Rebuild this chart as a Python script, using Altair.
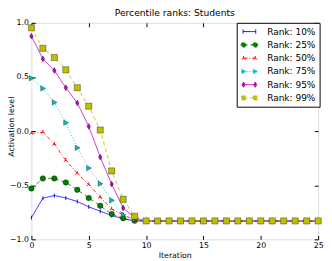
import altair as alt
import pandas as pd

iterations = [0, 1, 2, 3, 4, 5, 6, 7, 8, 9, 10, 11, 12, 13, 14, 15, 16, 17, 18, 19, 20, 21, 22, 23, 24, 25]
ranks = ["Rank: 10%", "Rank: 25%", "Rank: 50%", "Rank: 75%", "Rank: 95%", "Rank: 99%"]

rank10 = [-0.80, -0.62, -0.595, -0.618, -0.65, -0.70, -0.74, -0.78, -0.81, -0.83, -0.83,
          -0.83, -0.83, -0.83, -0.83, -0.83, -0.83, -0.83, -0.83, -0.83, -0.83, -0.83, -0.83, -0.83, -0.83, -0.83]
rank25 = [-0.53, -0.437, -0.437, -0.474, -0.543, -0.618, -0.69, -0.767, -0.805, -0.828, -0.83,
          -0.83, -0.83, -0.83, -0.83, -0.83, -0.83, -0.83, -0.83, -0.83, -0.83, -0.83, -0.83, -0.83, -0.83, -0.83]
rank50 = [-0.02, -0.01, -0.12, -0.27, -0.39, -0.494, -0.61, -0.72, -0.773, -0.82, -0.83,
          -0.83, -0.83, -0.83, -0.83, -0.83, -0.83, -0.83, -0.83, -0.83, -0.83, -0.83, -0.83, -0.83, -0.83, -0.83]
rank75 = [0.488, 0.394, 0.265, 0.078, -0.155, -0.342, -0.486, -0.64, -0.773, -0.816, -0.83,
          -0.83, -0.83, -0.83, -0.83, -0.83, -0.83, -0.83, -0.83, -0.83, -0.83, -0.83, -0.83, -0.83, -0.83, -0.83]
rank95 = [0.877, 0.667, 0.56, 0.40, 0.26, 0.043, -0.24, -0.49, -0.71, -0.80, -0.83,
          -0.83, -0.83, -0.83, -0.83, -0.83, -0.83, -0.83, -0.83, -0.83, -0.83, -0.83, -0.83, -0.83, -0.83, -0.83]
rank99 = [0.954, 0.765, 0.68, 0.566, 0.40, 0.23, 0.01, -0.368, -0.63, -0.787, -0.83,
          -0.83, -0.83, -0.83, -0.83, -0.83, -0.83, -0.83, -0.83, -0.83, -0.83, -0.83, -0.83, -0.83, -0.83, -0.83]

series = [rank10, rank25, rank50, rank75, rank95, rank99]
colors = ["#0000ff", "#008000", "#ff0000", "#00bfbf", "#bf00bf", "#bfbf00"]
dashes = [[1, 0], [4, 3], [4, 2, 1, 2], [1, 2], [1, 0], [4, 3]]
x_ticks = [0, 5, 10, 15, 20, 25]
y_ticks = [-1.0, -0.5, 0.0, 0.5, 1.0]

# marker shapes in the plot
marker_paths = [
    "M0,-1L0,1",
    "circle",
    "M0,0L0,-1M0,0L-0.87,0.5M0,0L0.87,0.5",
    "M-0.8,-1L1,0L-0.8,1Z",
    "M0,-1L0.6,0L0,1L-0.6,0Z",
    "M-1,-1H1V1H-1Z",
]
marker_sizes = [16, 32, 22, 30, 36, 40]
marker_filled = [False, True, False, True, True, True]

# legend symbols: a short line with a marker at each end
legend_paths = [
    "M-1.3,0L1.3,0M-1.3,-0.45L-1.3,0.45M1.3,-0.45L1.3,0.45",
    "M-1.2,0L1.2,0M-0.7,0A0.5,0.5 0 1 1 -1.7,0A0.5,0.5 0 1 1 -0.7,0ZM1.7,0A0.5,0.5 0 1 1 0.7,0A0.5,0.5 0 1 1 1.7,0Z",
    "M-1.2,0L1.2,0M-1.2,0L-1.2,-0.45M-1.2,0L-1.6,0.25M-1.2,0L-0.8,0.25M1.2,0L1.2,-0.45M1.2,0L0.8,0.25M1.2,0L1.6,0.25",
    "M-1.2,0L1.2,0M-1.6,-0.5L-0.7,0L-1.6,0.5ZM0.8,-0.5L1.7,0L0.8,0.5Z",
    "M-1.2,0L1.2,0M-1.2,-0.55L-0.9,0L-1.2,0.55L-1.5,0ZM1.2,-0.55L1.5,0L1.2,0.55L0.9,0Z",
    "M-1.2,0L1.2,0M-1.6,-0.4H-0.8V0.4H-1.6ZM0.8,-0.4H1.6V0.4H0.8Z",
]

rows = []
for name, vals in zip(ranks, series):
    for it, v in zip(iterations, vals):
        rows.append({"iteration": it, "value": v, "rank": name})
df = pd.DataFrame(rows)

FONT = "DejaVu Sans"

x_enc = alt.X(
    "iteration:Q",
    scale=alt.Scale(domain=[0, 25], nice=False, zero=False),
    axis=alt.Axis(values=x_ticks, format="d", title="Iteration", orient="bottom",
                  offset=-4, tickSize=4, domain=False, labelPadding=2, labelFlush=False,
                  labelFontSize=8, titleFontSize=8, titlePadding=3, titleFontWeight="normal",
                  grid=False, tickColor="black", labelColor="black", titleColor="black",
                  labelFont=FONT, titleFont=FONT),
)
y_enc = alt.Y(
    "value:Q",
    scale=alt.Scale(domain=[-1, 1], nice=False, zero=False),
    axis=alt.Axis(values=y_ticks, format=".1f", title="Activation level", orient="left",
                  offset=-4, tickSize=4, domain=False, labelPadding=3, labelFlush=False,
                  labelFontSize=8, titleFontSize=8, titleFontWeight="normal",
                  titleX=-20, titleY=106, titleAngle=270, titleBaseline="bottom",
                  grid=False, tickColor="black", labelColor="black", titleColor="black",
                  labelFont=FONT, titleFont=FONT),
)

layers = []
for i, name in enumerate(ranks):
    sub = alt.Chart(df).transform_filter(alt.datum.rank == name)
    line = sub.mark_line(color=colors[i], strokeDash=dashes[i], strokeWidth=1, opacity=0.85).encode(
        x=x_enc, y=y_enc, order="iteration:Q")
    if marker_filled[i]:
        pts = sub.mark_point(shape=marker_paths[i], filled=True, fill=colors[i], stroke="black",
                             strokeWidth=0.5, strokeOpacity=0.7, size=marker_sizes[i], opacity=1)
    else:
        pts = sub.mark_point(shape=marker_paths[i], filled=False, stroke=colors[i],
                             strokeWidth=1, size=marker_sizes[i], opacity=1)
    layers.append(line)
    layers.append(pts.encode(x=x_enc, y=y_enc))

leg = alt.Legend(orient="none", legendX=210.5, legendY=0, title=None, padding=3.5,
                 strokeColor="black", fillColor="white", symbolSize=100, symbolStrokeWidth=1,
                 labelFontSize=9.2, labelFont=FONT, labelColor="black", symbolOffset=4,
                 labelOffset=12.7, rowPadding=2.6, symbolOpacity=1)

legend_layer = alt.Chart(df).transform_filter("datum.iteration < 0").mark_point(
    filled=True, strokeWidth=1, opacity=1).encode(
    x=x_enc, y=y_enc,
    color=alt.Color("rank:N", scale=alt.Scale(domain=ranks, range=colors), legend=leg),
    stroke=alt.Stroke("rank:N", scale=alt.Scale(domain=ranks, range=colors), legend=leg),
    shape=alt.Shape("rank:N", scale=alt.Scale(domain=ranks, range=legend_paths), legend=leg),
    strokeDash=alt.StrokeDash("rank:N", scale=alt.Scale(domain=ranks, range=dashes), legend=leg),
)
layers.append(legend_layer)

main = alt.layer(*layers)

tick_layer = alt.Chart(df).transform_filter("datum.iteration < 0").mark_point().encode(
    x=alt.X("iteration:Q", axis=alt.Axis(orient="top", values=x_ticks, labels=False, title=None,
                                         domain=False, tickSize=4, offset=-4, grid=False,
                                         tickColor="black")),
    y=alt.Y("value:Q", axis=alt.Axis(orient="right", values=y_ticks, labels=False, title=None,
                                     domain=False, tickSize=4, offset=-4, grid=False,
                                     tickColor="black")),
)

chart = alt.layer(main, tick_layer).resolve_axis(x="independent", y="independent").properties(
    width=294, height=222,
    padding={"left": 24, "top": 12, "right": 6, "bottom": 19},
    autosize=alt.AutoSizeParams(type="none"),
    title=alt.TitleParams("Percentile ranks: Students", fontSize=9.4, fontWeight="normal",
                          font=FONT, color="black", offset=1),
).configure_view(stroke="black", strokeWidth=1).configure(font=FONT)

chart.save("out.html", embed_options={"renderer": "svg", "actions": False})
